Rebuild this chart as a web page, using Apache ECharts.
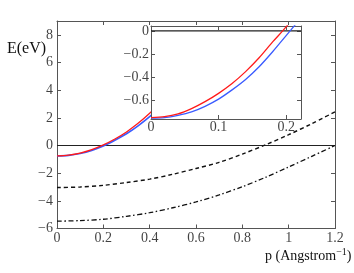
<!DOCTYPE html>
<html><head><meta charset="utf-8">
<script src="https://cdn.jsdelivr.net/npm/echarts@6/dist/echarts.min.js"></script>
<style>html,body{margin:0;padding:0;background:#fff}#c{width:354px;height:273px}</style>
</head><body><div id="c"></div>
<script>
// Main plot data
var mainP = [0, 0.05, 0.1, 0.15, 0.2, 0.25, 0.3, 0.35, 0.4, 0.45, 0.5];
var mainRed = [-0.75, -0.69, -0.545, -0.3, 0.045, 0.47, 0.98, 1.6, 2.33, 3.15, 4.05];
var mainBlue = [-0.755, -0.715, -0.58, -0.355, -0.04, 0.38, 0.85, 1.42, 2.08, 2.85, 3.7];
var lowP = [0, 0.1, 0.2, 0.3, 0.4, 0.5, 0.6, 0.7, 0.8, 0.9, 1.0, 1.1, 1.2];
var dashedE = [-3.04, -3.0, -2.88, -2.68, -2.43, -2.08, -1.66, -1.22, -0.62, 0.05, 0.78, 1.58, 2.43];
var dashDotE = [-5.47, -5.43, -5.33, -5.12, -4.86, -4.5, -4.08, -3.57, -2.98, -2.3, -1.55, -0.78, 0.0];
var mainXTicks = [0, 0.2, 0.4, 0.6, 0.8, 1, 1.2];
var mainYTicks = [-6, -4, -2, 0, 2, 4, 6, 8];
// Inset data
var insetP = [0, 0.02, 0.04, 0.06, 0.08, 0.10, 0.12, 0.14, 0.16, 0.18, 0.20, 0.22];
var insetRed = [-0.75, -0.742, -0.718, -0.672, -0.612, -0.54, -0.455, -0.352, -0.232, -0.095, 0.035, 0.19];
var insetBlue = [-0.755, -0.75, -0.73, -0.70, -0.652, -0.59, -0.51, -0.42, -0.31, -0.18, -0.04, 0.1];
var insetXTicks = [0, 0.1, 0.2];
var insetYTicks = [-0.6, -0.4, -0.2, 0];

function zip(a, b) { return a.map(function (v, i) { return [v, b[i]]; }); }
function txt(v) { return String(Math.round(v * 1000) / 1000).replace('-', '\u2212'); }

var FONT = 'Liberation Serif';
var AX = '#555';
var MAIN_X = [0, 1.2], MAIN_Y = [-6, 9], INS_X = [0, 0.222], INS_Y = [-0.762, 0.043];

function ax(grid, ext, ticks, pos, z) {
  return {
    type: 'value', gridIndex: grid, min: ext[0], max: ext[1], position: pos, z: z,
    axisLine: { show: true, onZero: false, lineStyle: { color: AX, width: 1 } },
    axisTick: { show: true, inside: true, length: 4, customValues: ticks, lineStyle: { color: AX } },
    axisLabel: { show: false },
    splitLine: { show: false }
  };
}
// tick label series: placed through the axes at the tick values
function tickLabels(xi, yi, pts, which, position, dist, z) {
  return {
    type: 'scatter', xAxisIndex: xi, yAxisIndex: yi, data: pts, symbolSize: 0, z: z, silent: true,
    label: { show: true, position: position, distance: dist, fontFamily: FONT, fontSize: 14, color: '#111',
      formatter: function (p) { return txt(p.value[which]); } }
  };
}

var chart = echarts.init(document.getElementById('c'), null, { renderer: 'canvas' });
chart.setOption({
  animation: false,
  backgroundColor: '#fff',
  textStyle: { fontFamily: FONT, fontSize: 14 },
  grid: [
    { left: 57, top: 21, width: 278, height: 207.5, show: false },
    { left: 151, top: 26, width: 150, height: 93, show: true, backgroundColor: '#fff', borderWidth: 0, z: 10 }
  ],
  xAxis: [
    ax(0, MAIN_X, mainXTicks, 'bottom', 1),
    ax(0, MAIN_X, mainXTicks, 'top', 1),
    ax(1, INS_X, insetXTicks, 'bottom', 11),
    ax(1, INS_X, insetXTicks, 'top', 11)
  ],
  yAxis: [
    ax(0, MAIN_Y, mainYTicks, 'left', 1),
    ax(0, MAIN_Y, mainYTicks, 'right', 1),
    ax(1, INS_Y, insetYTicks, 'left', 11),
    ax(1, INS_Y, insetYTicks, 'right', 11)
  ],
  series: [
    { type: 'line', xAxisIndex: 0, yAxisIndex: 0, data: [[MAIN_X[0], 0], [MAIN_X[1], 0]], symbol: 'none', lineStyle: { color: '#222', width: 1.2 }, z: 2 },
    { type: 'line', xAxisIndex: 0, yAxisIndex: 0, data: zip(lowP, dashedE), smooth: 0.3, symbol: 'none', lineStyle: { color: '#111', width: 1.4, type: [4, 3] }, z: 2 },
    { type: 'line', xAxisIndex: 0, yAxisIndex: 0, data: zip(lowP, dashDotE), smooth: 0.3, symbol: 'none', lineStyle: { color: '#111', width: 1.3, type: [5, 2.5, 1.5, 2.5] }, z: 2 },
    { type: 'line', xAxisIndex: 0, yAxisIndex: 0, data: zip(mainP, mainBlue), smooth: 0.3, symbol: 'none', lineStyle: { color: '#3a5bff', width: 1.6 }, z: 3 },
    { type: 'line', xAxisIndex: 0, yAxisIndex: 0, data: zip(mainP, mainRed), smooth: 0.3, symbol: 'none', lineStyle: { color: '#ff1a1a', width: 1.3 }, z: 3 },
    { type: 'line', xAxisIndex: 2, yAxisIndex: 2, data: [[INS_X[0], 0], [INS_X[1], 0]], symbol: 'none', lineStyle: { color: '#222', width: 1.2 }, z: 12 },
    { type: 'line', xAxisIndex: 2, yAxisIndex: 2, data: zip(insetP, insetBlue), smooth: 0.3, symbol: 'none', lineStyle: { color: '#3a5bff', width: 1.3 }, z: 12 },
    { type: 'line', xAxisIndex: 2, yAxisIndex: 2, data: zip(insetP, insetRed), smooth: 0.3, symbol: 'none', lineStyle: { color: '#ff1a1a', width: 1.3 }, z: 12 },
    tickLabels(0, 0, mainXTicks.map(function (t) { return [t, MAIN_Y[0]]; }), 0, 'bottom', 3, 5),
    tickLabels(0, 0, mainYTicks.map(function (t) { return [MAIN_X[0], t]; }), 1, 'left', 4, 5),
    tickLabels(2, 2, insetXTicks.map(function (t) { return [t, INS_Y[0]]; }), 0, 'bottom', 1, 13),
    tickLabels(2, 2, insetYTicks.map(function (t) { return [INS_X[0], t]; }), 1, 'left', 2, 13)
  ],
  graphic: [
    { type: 'text', left: 7, top: 41, z: 20, style: { text: 'E(eV)', fontFamily: FONT, fontSize: 16, fill: '#111' } },
    { type: 'text', left: 265, top: 247, z: 20, style: {
        text: '{a|p (Angstrom}{s|\u22121}{a|)}', fontFamily: FONT, fill: '#111',
        rich: { a: { fontFamily: FONT, fontSize: 14, fill: '#111', verticalAlign: 'bottom' },
                s: { fontFamily: FONT, fontSize: 10, fill: '#111', verticalAlign: 'top', padding: [0, 0, 6, 0] } } } }
  ]
});
</script></body></html>
